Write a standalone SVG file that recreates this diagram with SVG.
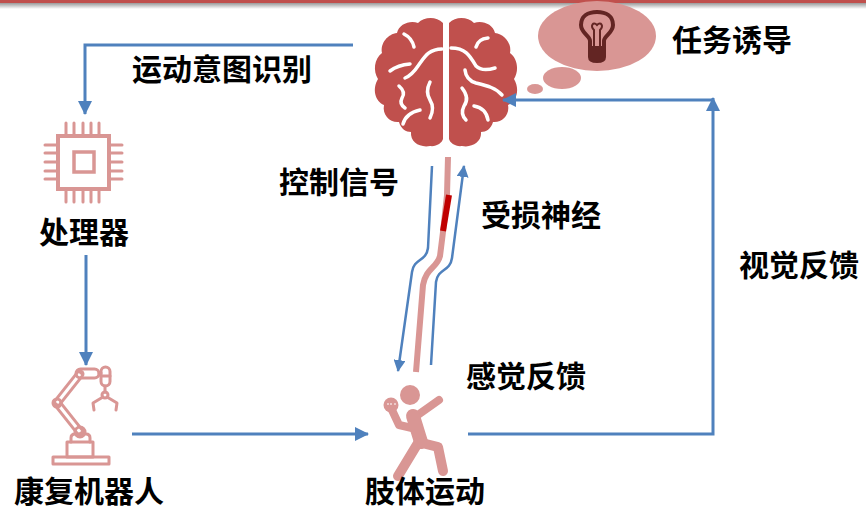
<svg xmlns="http://www.w3.org/2000/svg" width="866" height="510" viewBox="0 0 866 510">
  <defs>
    <linearGradient id="topShade" x1="0" y1="0" x2="0" y2="1">
      <stop offset="0" stop-color="#9a9a9a"/>
      <stop offset="1" stop-color="#ffffff"/>
    </linearGradient>
    <marker id="arrow" viewBox="0 0 14 14" refX="13" refY="7" markerWidth="14" markerHeight="14" markerUnits="userSpaceOnUse" orient="auto">
      <path d="M0,0 L14,7 L0,14 Z" fill="#4F81BD"/>
    </marker>
    <marker id="arrowSm" viewBox="0 0 12 12" refX="11" refY="6" markerWidth="12" markerHeight="12" markerUnits="userSpaceOnUse" orient="auto">
      <path d="M0,0 L12,6 L0,12 Z" fill="#4F81BD"/>
    </marker>
    <path id="hemi" d="M443,23 C436,16 424,17 418,23 C410,20 399,24 397,33 C388,34 380,43 382,53 C374,59 373,71 378,79 C372,89 375,101 384,105 C382,115 390,123 399,122 C401,129 406,132 411,132 C410,142 420,148 430,146 C436,147 442,143 443,139 Z"/>
  </defs>
  <style>
    .lbl { font-family: "Noto Sans CJK SC", "Microsoft YaHei", "Liberation Sans", sans-serif; font-weight: 700; font-size: 30px; fill: #000; }
    .conn { fill: none; stroke: #4F81BD; stroke-width: 3; }
    .nerveArrow { fill: none; stroke: #4F81BD; stroke-width: 2.5; }
    .icon { fill: none; stroke: #D99694; stroke-width: 3; stroke-linecap: round; stroke-linejoin: round; }
    .fold { fill: none; stroke: #ffffff; stroke-width: 3.5; stroke-linecap: round; stroke-linejoin: round; }
  </style>

  <rect width="866" height="510" fill="#ffffff"/>
  <!-- header rule -->
  <rect x="0" y="0" width="866" height="3" fill="#C0504D"/>
  <rect x="0" y="3" width="866" height="6" fill="url(#topShade)"/>

  <!-- brain -->
  <g id="brain">
    <use href="#hemi" fill="#C0504D"/>
    <use href="#hemi" fill="#C0504D" transform="translate(892,0) scale(-1,1)"/>
    <path class="fold" d="M404,34 Q412,38 414,47"/>
    <path class="fold" d="M442,49 C428,49 424,58 418,66 C414,72 410,76 405,78"/>
    <path class="fold" d="M390,71 Q398,65 410,64"/>
    <path class="fold" d="M399,86 Q406,92 402,98 Q399,104 405,108"/>
    <path class="fold" d="M430,82 Q425,92 430,100 Q435,108 430,118"/>
    <path class="fold" d="M403,124 Q406,113 420,110"/>
    <path class="fold" d="M476,47 Q478,39 488,38"/>
    <path class="fold" d="M451,48 C466,48 470,56 476,66 Q482,72 495,68"/>
    <path class="fold" d="M465,70 Q466,80 476,83 C488,86 496,88 502,95"/>
    <path class="fold" d="M462,88 Q470,98 464,106 Q460,114 466,120"/>
    <path class="fold" d="M474,106 Q486,108 488,120"/>
  </g>

  <!-- thought bubble with light bulb -->
  <g id="task">
    <ellipse cx="597" cy="36" rx="59" ry="35" fill="#D99694"/>
    <ellipse cx="562" cy="78" rx="19" ry="11" fill="#D99694"/>
    <ellipse cx="535" cy="89" rx="8" ry="5" fill="#D99694"/>
    <path d="M590,46 L590,41 C590,36 581,33 581,25 C581,16 588,12 597,12 C606,12 613,16 613,25 C613,33 604,36 604,41 L604,46" fill="none" stroke="#632523" stroke-width="4" stroke-linejoin="round"/>
    <path d="M594,46 L594,30 C590,26 593,21 597,25 C601,21 604,26 600,30 L600,46" fill="none" stroke="#632523" stroke-width="2"/>
    <path d="M588,46 H606 V57 Q606,63 597,63 Q588,63 588,57 Z" fill="#632523"/>
    <text class="lbl" x="672" y="51">任务诱导</text>
  </g>

  <!-- processor -->
  <g id="processor">
    <rect x="58" y="136" width="51" height="53" fill="none" stroke="#D99694" stroke-width="4"/>
    <rect x="74" y="152" width="20" height="20" fill="none" stroke="#D99694" stroke-width="3.5"/>
    <path class="icon" d="M66,123 V134 M74,123 V134 M83,123 V134 M91,123 V134 M99,123 V134 M66,191 V202 M74,191 V202 M83,191 V202 M91,191 V202 M99,191 V202 M45,145 H56 M45,153 H56 M45,162 H56 M45,171 H56 M45,179 H56 M111,145 H122 M111,153 H122 M111,162 H122 M111,171 H122 M111,179 H122"/>
    <text class="lbl" x="39" y="243">处理器</text>
  </g>

  <!-- rehabilitation robot arm -->
  <g id="robot">
    <line x1="80" y1="432" x2="57" y2="403" stroke="#D99694" stroke-width="9" stroke-linecap="round"/>
    <line x1="80" y1="432" x2="57" y2="403" stroke="#ffffff" stroke-width="3"/>
    <line x1="57" y1="403" x2="80" y2="374" stroke="#D99694" stroke-width="9" stroke-linecap="round"/>
    <line x1="57" y1="403" x2="80" y2="374" stroke="#ffffff" stroke-width="3"/>
    <rect class="icon" x="53" y="457" width="56" height="7" fill="#ffffff"/>
    <rect class="icon" x="67" y="442" width="26" height="15" fill="#ffffff"/>
    <path class="icon" d="M71,442 V438 Q71,434 75,434 H86 Q90,434 90,438 V442" fill="#ffffff"/>
    <circle class="icon" cx="80" cy="432" r="5" fill="#ffffff"/>
    <circle class="icon" cx="57" cy="403" r="4" fill="#ffffff"/>
    <rect class="icon" x="76" y="369" width="23" height="9" rx="4.5" fill="#ffffff"/>
    <rect class="icon" x="101" y="367" width="9" height="19" rx="4.5" fill="#ffffff"/>
    <path class="icon" d="M101,376 H110 M99,373 H101 M105,386 V392"/>
    <circle class="icon" cx="105" cy="395" r="3" fill="#ffffff"/>
    <path class="icon" d="M103,397 L93,403 L94,410 M107,397 L117,403 L116,410"/>
    <text class="lbl" x="14" y="502">康复机器人</text>
  </g>

  <!-- limb movement figure -->
  <g id="limb">
    <g fill="none" stroke="#D99694" stroke-linecap="round" stroke-linejoin="round">
      <line x1="415" y1="417" x2="439" y2="400" stroke-width="8"/>
      <polyline points="392,410 399,425 412,428" stroke-width="8"/>
      <line x1="413" y1="416" x2="421" y2="442" stroke-width="14"/>
      <line x1="418" y1="443" x2="398" y2="476" stroke-width="10"/>
      <polyline points="422,443 438,447 443,471" stroke-width="10"/>
    </g>
    <circle cx="410" cy="395" r="10" fill="#D99694"/>
    <circle cx="391" cy="405" r="7.5" fill="#D99694"/>
    <path d="M387,404 h2 M391,403 v2 M394,404 h2" stroke="#ffffff" stroke-width="1" fill="none"/>
    <text class="lbl" x="365" y="502">肢体运动</text>
  </g>

  <!-- nerve pathway -->
  <g id="nerve">
    <path d="M448,157 L447,195 L443,232 L440,256 C437,268 426,268 423,285 L416,372" fill="none" stroke="#D99694" stroke-width="6"/>
    <path d="M449,195 L443,231" fill="none" stroke="#C00000" stroke-width="6"/>
    <text class="lbl" x="279" y="193">控制信号</text>
    <text class="lbl" x="481" y="226">受损神经</text>
    <text class="lbl" x="466" y="387">感觉反馈</text>
  </g>

  <text class="lbl" x="132" y="80">运动意图识别</text>
  <text class="lbl" x="739" y="276">视觉反馈</text>

  <!-- connectors -->
  <g id="connectors">
    <polyline class="conn" points="353,45 85,45 85,114" marker-end="url(#arrow)"/>
    <line class="conn" x1="86" y1="255" x2="86" y2="365" marker-end="url(#arrow)"/>
    <line class="conn" x1="132" y1="434" x2="368" y2="434" marker-end="url(#arrow)"/>
    <polyline class="conn" points="468,434 713,434 713,98" marker-end="url(#arrow)"/>
    <line class="conn" x1="713" y1="100" x2="503" y2="100" marker-end="url(#arrow)"/>
    <path class="nerveArrow" d="M432,166 L428,248 C426,262 414,258 412,272 L398,371" marker-end="url(#arrowSm)"/>
    <path class="nerveArrow" d="M431,365 L436,282 C438,268 450,272 452,258 L464,166" marker-end="url(#arrowSm)"/>
  </g>
</svg>
